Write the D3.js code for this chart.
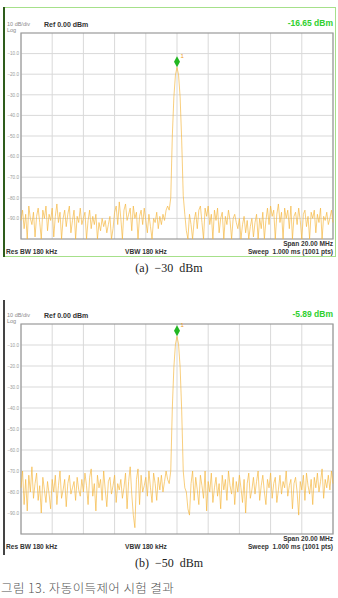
<!DOCTYPE html>
<html>
<head>
<meta charset="utf-8">
<script src="https://cdn.jsdelivr.net/npm/d3@7"></script>
<style>
  html, body { margin: 0; padding: 0; background: #fff; }
  svg { display: block; }
</style>
</head>
<body>
<svg id="chart" width="338" height="598"></svg>
<script>
// dB levels on the y axis (10 dB/div, ref 0 dBm)
const yTicks = [-10, -20, -30, -40, -50, -60, -70, -80, -90];
const spanMHz = [-10, 10];

// (a) -30 dBm input : 201 sweep points
const traceA = [
  -91,-86,-95,-88,-100,-84,-90,-93,-87,-99,
  -89,-85,-92,-100,-86,-90,-84,-96,-88,-91,
  -85,-99,-89,-83,-92,-87,-100,-90,-86,-94,
  -88,-84,-97,-91,-86,-100,-89,-92,-85,-93,
  -90,-87,-100,-91,-86,-95,-89,-93,-88,-100,
  -92,-96,-90,-94,-91,-97,-93,-89,-100,-95,
  -87,-84,-93,-82,-90,-100,-86,-83,-91,-88,
  -85,-96,-84,-90,-87,-100,-89,-86,-93,-85,
  -91,-97,-88,-94,-100,-90,-92,-87,-95,-89,
  -93,-88,-91,-86,-84,
  -86,-80,-50,-31,-20.3,-16.65,-20.3,-31,-52,-79,-88,
  -96,-100,-88,-93,
  -100,-91,-87,-95,-86,-84,-92,-100,-85,-89,
  -84,-93,-88,-100,-86,-91,-85,-97,-90,-87,
  -100,-89,-93,-86,-91,-100,-90,-88,-92,-95,
  -90,-100,-93,-89,-97,-91,-100,-94,-90,-99,
  -92,-88,-100,-90,-95,-87,-100,-91,-85,-93,
  -84,-89,-86,-100,-88,-83,-92,-87,-100,-85,
  -90,-86,-95,-84,-100,-89,-87,-93,-85,-91,
  -100,-88,-86,-94,-89,-100,-87,-90,-86,-97,
  -88,-92,-85,-100,-89,-91,-87,-93,-90,-86,-92
];

// (b) -50 dBm input
const traceB = [
  -78,-70,-86,-74,-89,-72,-80,-68,-83,-76,
  -71,-84,-77,-90,-73,-79,-85,-75,-81,-88,
  -74,-80,-72,-86,-77,-70,-83,-79,-74,-87,
  -76,-72,-81,-78,-75,-84,-73,-79,-82,-74,
  -80,-71,-77,-86,-73,-69,-82,-76,-89,-72,
  -78,-74,-84,-70,-79,-87,-75,-73,-81,-77,
  -72,-85,-76,-79,-74,-83,-78,-71,-88,-75,
  -68,-81,-91,-97,-74,-69,-86,-72,-80,-77,
  -73,-82,-70,-78,-85,-71,-76,-84,-73,-79,
  -72,-80,-75,-70,-74,
  -76,-70,-40,-20.5,-9.6,-5.89,-9.6,-20.5,-41,-70,-78,
  -80,-88,-91,-76,
  -70,-84,-73,-79,-86,-72,-77,-83,-70,-89,
  -75,-80,-71,-85,-78,-73,-82,-76,-88,-72,
  -79,-74,-84,-70,-77,-81,-73,-86,-75,-80,
  -72,-78,-85,-74,-90,-76,-71,-83,-79,-73,
  -81,-75,-70,-84,-77,-72,-80,-86,-74,-78,
  -71,-83,-76,-73,-85,-79,-72,-81,-75,-78,
  -70,-82,-77,-74,-88,-76,-73,-80,-91,-75,
  -79,-72,-84,-71,-77,-81,-74,-86,-73,-78,
  -71,-80,-75,-69,-83,-74,-78,-72,-79,-70,-76
];

const panels = [
  { trace: traceA, markerText: "-16.65 dBm", caption: "(a)  \u221230  dBm", top: 33, bottom: 239, head: 0, frame: true },
  { trace: traceB, markerText: "-5.89 dBm", caption: "(b)  \u221250  dBm", top: 324, bottom: 534, head: 291, frame: false }
];

const svg = d3.select("#chart");
const sans = "'Liberation Sans', Arial, sans-serif";
const left = 21, right = 333;

panels.forEach(p => {
  const g = svg.append("g");
  const n = p.trace.length;

  const x = d3.scaleLinear().domain(spanMHz).range([left, right]);
  const idx = d3.scaleLinear().domain([0, n - 1]).range(spanMHz);
  const y = d3.scaleLinear().domain([-100, 0]).range([p.bottom, p.top]);

  // instrument frame
  if (p.frame) {
    g.append("rect").attr("x", 4.5).attr("y", 7.5).attr("width", 331).attr("height", 249)
      .attr("fill", "none").attr("stroke", "#a6e08a").attr("stroke-width", 1);
    g.append("line").attr("x1", 4).attr("x2", 4).attr("y1", 7).attr("y2", 257)
      .attr("stroke", "#2e5c1c").attr("stroke-width", 2);
  } else {
    g.append("line").attr("x1", 4).attr("x2", 4).attr("y1", p.head + 9).attr("y2", p.bottom + 21)
      .attr("stroke", "#444").attr("stroke-width", 2);
  }

  // grid
  g.append("g").selectAll("line").data(d3.range(-10, 11, 2))
    .join("line")
    .attr("x1", d => x(d)).attr("x2", d => x(d))
    .attr("y1", p.top).attr("y2", p.bottom)
    .attr("stroke", "#d9d9d9").attr("stroke-width", 1);

  g.append("g").selectAll("line").data(yTicks)
    .join("line")
    .attr("x1", left).attr("x2", right)
    .attr("y1", d => y(d)).attr("y2", d => y(d))
    .attr("stroke", "#d9d9d9").attr("stroke-width", 1);

  g.append("rect").attr("x", left).attr("y", p.top)
    .attr("width", right - left).attr("height", p.bottom - p.top)
    .attr("fill", "none").attr("stroke", "#9a9a9a").attr("stroke-width", 1.2);

  // y tick labels
  g.append("g").selectAll("text").data(yTicks)
    .join("text")
    .attr("x", left - 2).attr("y", d => y(d) + 1.8)
    .attr("text-anchor", "end")
    .attr("font-family", sans).attr("font-size", 4.6)
    .attr("fill", "#9a9a9a")
    .text(d => d3.format(".1f")(d));

  // trace
  const line = d3.line()
    .x((d, i) => x(idx(i)))
    .y(d => y(Math.max(-100, d)));

  g.append("path").datum(p.trace)
    .attr("fill", "none")
    .attr("stroke", "#f5b73f")
    .attr("stroke-width", 0.8)
    .attr("stroke-opacity", 0.85)
    .attr("d", line);

  // marker 1 at peak
  const pk = d3.maxIndex(p.trace);
  const mx = x(idx(pk)), my = y(p.trace[pk]);
  g.append("path")
    .attr("d", `M${mx},${my - 11} L${mx + 3},${my - 5.5} L${mx},${my} L${mx - 3},${my - 5.5} Z`)
    .attr("fill", "#22b722");
  g.append("text").attr("x", mx + 3.5).attr("y", my - 9)
    .attr("font-family", sans).attr("font-size", 6).attr("fill", "#f0a020")
    .text("1");

  // header
  const hy = p.head + 27;
  g.append("text").attr("x", 7).attr("y", hy - 1)
    .attr("font-family", sans).attr("font-size", 5.5).attr("fill", "#8a8a8a")
    .text("10 dB/div");
  g.append("text").attr("x", 7).attr("y", hy + 4.5)
    .attr("font-family", sans).attr("font-size", 5.5).attr("fill", "#8a8a8a")
    .text("Log");
  g.append("text").attr("x", 44).attr("y", hy)
    .attr("font-family", sans).attr("font-size", 7).attr("font-weight", "bold").attr("fill", "#333")
    .text("Ref 0.00 dBm");
  g.append("text").attr("x", right).attr("y", hy - 1)
    .attr("text-anchor", "end")
    .attr("font-family", sans).attr("font-size", 8.5).attr("font-weight", 600).attr("fill", "#2fd02f")
    .text(p.markerText);

  // footer
  const fy = p.bottom + 7;
  const foot = [
    { t: "Span 20.00 MHz", x: right, y: fy, a: "end" },
    { t: "Res BW 180 kHz", x: 6, y: fy + 7.5, a: "start" },
    { t: "VBW 180 kHz", x: 125, y: fy + 7.5, a: "start" },
    { t: "Sweep  1.000 ms (1001 pts)", x: right, y: fy + 7.5, a: "end" }
  ];
  g.append("g").selectAll("text").data(foot)
    .join("text")
    .attr("x", d => d.x).attr("y", d => d.y)
    .attr("text-anchor", d => d.a)
    .attr("font-family", sans).attr("font-size", 6.6).attr("font-weight", "bold")
    .attr("fill", "#333")
    .style("white-space", "pre")
    .text(d => d.t);

  // caption
  g.append("text").attr("x", 169).attr("y", p.bottom + 33)
    .attr("text-anchor", "middle")
    .attr("font-family", "'Liberation Serif', 'Times New Roman', serif")
    .attr("font-size", 12).attr("fill", "#222")
    .style("white-space", "pre")
    .text(p.caption);
});

svg.append("text").attr("x", 1).attr("y", 593)
  .attr("font-family", "'Noto Sans CJK KR', sans-serif")
  .attr("font-size", 12.5).attr("font-weight", 300).attr("fill", "#555")
  .attr("letter-spacing", 0.4)
  .text("그림 13. 자동이득제어 시험 결과");
</script>
</body>
</html>
